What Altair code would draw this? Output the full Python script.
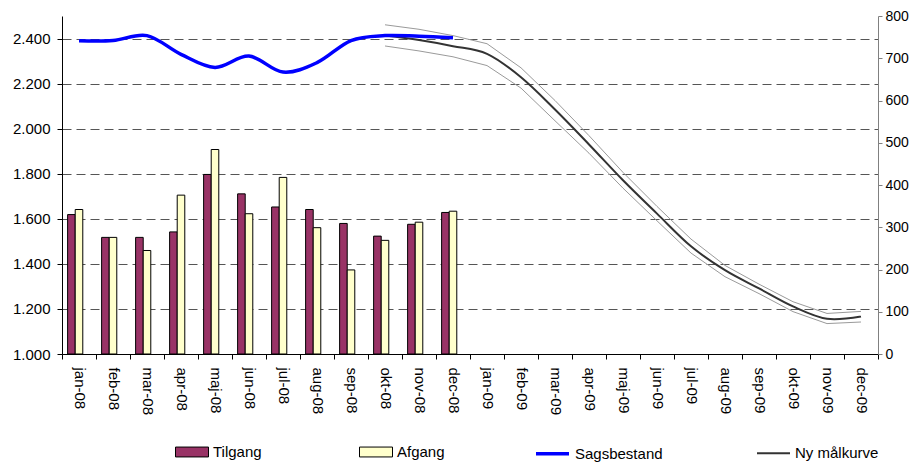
import altair as alt
import pandas as pd

months = ['jan-08', 'feb-08', 'mar-08', 'apr-08', 'maj-08', 'jun-08',
          'jul-08', 'aug-08', 'sep-08', 'okt-08', 'nov-08', 'dec-08',
          'jan-09', 'feb-09', 'mar-09', 'apr-09', 'maj-09', 'jun-09',
          'jul-09', 'aug-09', 'sep-09', 'okt-09', 'nov-09', 'dec-09']

# Bars (right axis, 0-800)
tilgang = [330, 276, 276, 289, 425, 379, 348, 342, 309, 279, 307, 335]
afgang = [342, 276, 245, 376, 484, 332, 418, 299, 199, 269, 312, 338]

# Lines (left axis, 1.000-2.500)
sagsbestand = [2390, 2391, 2413, 2330, 2272, 2322, 2251, 2293, 2391, 2413, 2410, 2404]
maal_months = months[9:]
maalkurve = [2413, 2393, 2366, 2332, 2228, 2085, 1930, 1771, 1623, 1478, 1372, 1291, 1211, 1156, 1166]
maal_upper = [2461, 2441, 2413, 2377, 2270, 2125, 1969, 1806, 1655, 1510, 1393, 1310, 1232, 1180, 1189]
maal_lower = [2367, 2345, 2319, 2280, 2180, 2035, 1891, 1736, 1591, 1448, 1343, 1268, 1188, 1135, 1142]

bar_series = ['Tilgang', 'Afgang']
bar_colors = ['#993366', '#FFFFCC']
line_series = ['Sagsbestand', 'Ny målkurve']
line_colors = ['#0000FF', '#333333']

bar_df = pd.DataFrame(
    [{'month': m, 'series': 'Tilgang', 'value': v} for m, v in zip(months[:12], tilgang)] +
    [{'month': m, 'series': 'Afgang', 'value': v} for m, v in zip(months[:12], afgang)]
)
line_df = pd.DataFrame(
    [{'month': m, 'series': 'Sagsbestand', 'value': v} for m, v in zip(months[:12], sagsbestand)] +
    [{'month': m, 'series': 'Ny målkurve', 'value': v} for m, v in zip(maal_months, maalkurve)]
)
band_df = pd.DataFrame(
    [{'month': m, 'band': 'upper', 'value': v} for m, v in zip(maal_months, maal_upper)] +
    [{'month': m, 'band': 'lower', 'value': v} for m, v in zip(maal_months, maal_lower)]
)

FONT = 'Liberation Sans'

x_enc = alt.X('month:N', sort=months,
              scale=alt.Scale(domain=months, paddingInner=0, paddingOuter=0),
              axis=alt.Axis(title=None, labelAngle=90, labelFontSize=15, labelColor='black',
                            tickBand='extent', tickSize=5, tickColor='black',
                            domainColor='black', labelPadding=8, grid=False))

y_left = alt.Y('value:Q',
               scale=alt.Scale(domain=[1000, 2500], nice=False, zero=False),
               axis=alt.Axis(orient='left', values=list(range(1000, 2401, 200)), title=None,
                             labelExpr="replace(format(datum.value, ',d'), ',', '.')",
                             grid=True, gridDash=[9, 5], gridColor='#555555', gridWidth=1,
                             domainColor='black', tickColor='black', tickSize=5,
                             labelFontSize=15, labelColor='black', labelPadding=7))

y_right = alt.Y('value:Q',
                scale=alt.Scale(domain=[0, 800], nice=False),
                axis=alt.Axis(orient='right', values=list(range(0, 801, 100)), title=None,
                              grid=False, domainColor='#808080', tickColor='#808080',
                              tickSize=4, labelFontSize=14, labelColor='black', labelPadding=3))

bar_legend = alt.Legend(orient='none', legendX=113, legendY=419, direction='horizontal',
                        title=None, symbolType='M-1,-0.3L1,-0.3L1,0.3L-1,0.3Z',
                        symbolSize=1089, symbolStrokeColor='black', symbolStrokeWidth=1,
                        symbolOpacity=1, labelFontSize=15, labelColor='black', labelOffset=4,
                        columnPadding=95)

line_legend = alt.Legend(orient='none', legendX=472, legendY=419, direction='horizontal',
                         title=None, symbolType='stroke', symbolSize=1089,
                         labelFontSize=15, labelColor='black', labelOffset=4,
                         columnPadding=90)

bars = alt.Chart(bar_df).mark_bar(stroke='black', strokeWidth=1).encode(
    x=x_enc,
    xOffset=alt.XOffset('series:N',
                        scale=alt.Scale(domain=['Tilgang', 'Afgang', '_'],
                                        paddingInner=0, paddingOuter=0.74)),
    y=y_right,
    fill=alt.Fill('series:N', scale=alt.Scale(domain=bar_series, range=bar_colors),
                  legend=bar_legend),
)

stroke_enc = alt.Stroke('series:N', scale=alt.Scale(domain=line_series, range=line_colors),
                        legend=line_legend)
width_enc = alt.StrokeWidth('series:N', scale=alt.Scale(domain=line_series, range=[3.5, 2]),
                            legend=line_legend)

bands = alt.Chart(band_df).mark_line(color='#9a9a9a', strokeWidth=1).encode(
    x=x_enc, y=y_left, detail='band:N')

dark = alt.Chart(line_df).transform_filter(
    alt.datum.series == 'Ny målkurve'
).mark_line(interpolate='cardinal').encode(
    x=x_enc, y=y_left, stroke=stroke_enc, strokeWidth=width_enc)

blue = alt.Chart(line_df).transform_filter(
    alt.datum.series == 'Sagsbestand'
).mark_line(interpolate='cardinal').encode(
    x=x_enc, y=y_left, stroke=stroke_enc, strokeWidth=width_enc)

lines = alt.layer(bands, dark, blue)

chart = alt.layer(bars, lines).resolve_scale(y='independent').properties(
    width=816, height=338,
    padding={'left': 54, 'top': 8, 'right': 31, 'bottom': 108},
    autosize=alt.AutoSizeParams(type='none'),
).configure(font=FONT).configure_view(stroke=None).configure_axis(
    labelFont=FONT).configure_legend(labelFont=FONT)

chart.save('out.html', embed_options={'renderer': 'svg', 'actions': False})
